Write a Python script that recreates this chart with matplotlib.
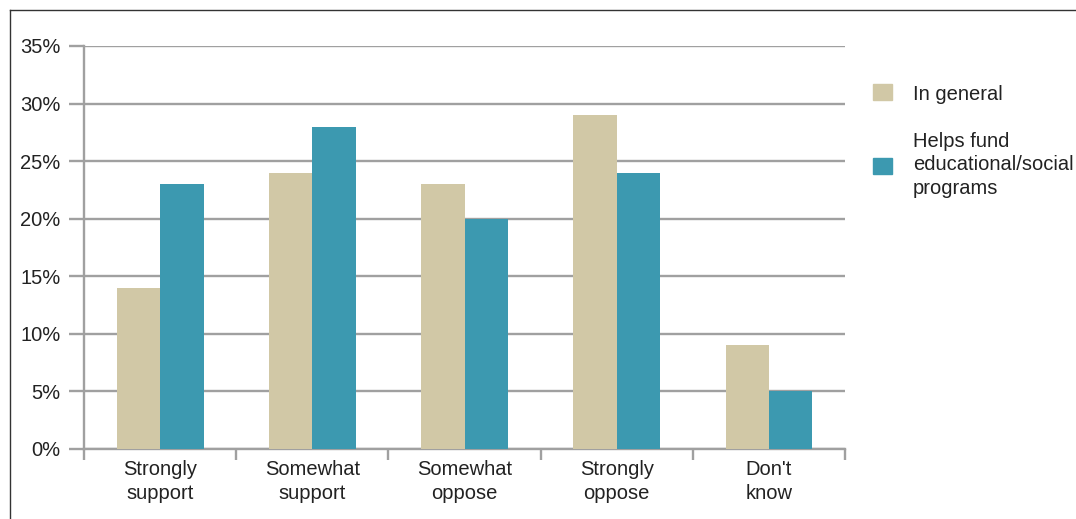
import numpy as np
import matplotlib
matplotlib.use("Agg")
from matplotlib import pyplot as plt
from matplotlib.lines import Line2D
from matplotlib.patches import Rectangle
from matplotlib.ticker import FixedLocator, PercentFormatter

categories = ["Strongly\nsupport", "Somewhat\nsupport", "Somewhat\noppose",
              "Strongly\noppose", "Don't\nknow"]
in_general = [14, 24, 23, 29, 9]
helps_fund = [23, 28, 20, 24, 5]
series_names = ["In general", "Helps fund\neducational/social\nprograms"]

beige = "#D1C8A6"
teal = "#3C99B0"
grey = "#A0A0A0"
txt = "#222222"

plt.rcParams['font.family'] = ['Liberation Sans', 'DejaVu Sans']
plt.rcParams['font.size'] = 14.5

fig = plt.figure(figsize=(10.76, 5.19), dpi=100)
ax = fig.add_axes([0.0781, 0.1349, 0.7072, 0.7765])

x = np.arange(len(categories))
w = 0.285
ax.bar(x - w / 2, in_general, w, color=beige, zorder=3)
ax.bar(x + w / 2, helps_fund, w, color=teal, zorder=3)

ax.set_xlim(-0.5, len(categories) - 0.5)
ax.set_ylim(0, 35)
ax.set_yticks(np.arange(0, 36, 5))
ax.yaxis.set_major_formatter(PercentFormatter(decimals=0))
ax.yaxis.grid(True, color=grey, linewidth=1.7, zorder=0)

# category labels centred, ticks on group borders
ax.set_xticks(x)
ax.set_xticklabels(categories, color=txt, linespacing=1.3)
ax.xaxis.set_minor_locator(FixedLocator(np.arange(-0.5, len(categories), 1)))
ax.tick_params(axis='x', which='major', length=0, pad=8)
ax.tick_params(axis='x', which='minor', length=8, width=1.7, color=grey)
ax.tick_params(axis='y', length=11, width=1.7, color=grey, labelcolor=txt, pad=6)

for s in ["top", "right"]:
    ax.spines[s].set_visible(False)
for s in ["left", "bottom"]:
    ax.spines[s].set_color(grey)
    ax.spines[s].set_linewidth(1.7)

# legend drawn by hand
fig.add_artist(Rectangle((873 / 1076, 1 - 100 / 519), 19 / 1076, 16 / 519,
                         transform=fig.transFigure, color=beige))
fig.add_artist(Rectangle((873 / 1076, 1 - 174 / 519), 19 / 1076, 16 / 519,
                         transform=fig.transFigure, color=teal))
fig.text(913 / 1076, 1 - 95 / 519, series_names[0], va='center', color=txt)
fig.text(913 / 1076, 1 - 165 / 519, series_names[1], va='center', color=txt,
         linespacing=1.3)

# outer frame (top and left only)
fig.add_artist(Line2D([9.5 / 1076, 9.5 / 1076], [0, 1 - 9.5 / 519],
                      transform=fig.transFigure, color="#333333", linewidth=1))
fig.add_artist(Line2D([9.5 / 1076, 1], [1 - 9.5 / 519, 1 - 9.5 / 519],
                      transform=fig.transFigure, color="#333333", linewidth=1))

plt.savefig("out.png", dpi=100)
